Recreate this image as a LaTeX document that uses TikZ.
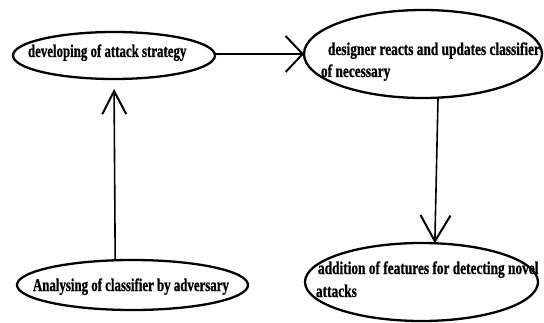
\documentclass[tikz,border=0pt]{standalone}
\usepackage{fontspec}
\setmainfont{Liberation Serif}
\newfontfamily\fa{Liberation Serif}[FakeStretch=0.715,FakeBold=0.8]
\newfontfamily\fb{Liberation Serif}[FakeStretch=0.742,FakeBold=0.8]
\usetikzlibrary{shapes.geometric,arrows.meta}
\begin{document}
\begin{tikzpicture}[x=1pt,y=1pt,
  oval/.style={ellipse,draw=black,line width=2.3pt,inner sep=0pt,outer sep=0pt},
  lbl/.style={inner sep=0pt,outer sep=0pt,anchor=base west},
  harr/.style={line width=2.4pt,-{Straight Barb[length=17pt,width=36pt,line width=2pt]}},
  varr/.style={line width=1.6pt,-{Straight Barb[length=26pt,width=30pt,line width=2pt]}},
]
\useasboundingbox (0,0) rectangle (544,322);
\node[oval,minimum width=202pt,minimum height=47pt] (e1) at (114,266.5) {};
\node[oval,minimum width=238pt,minimum height=88pt] (e2) at (423,268) {};
\node[oval,minimum width=231pt,minimum height=50pt] (e3) at (132.5,37) {};
\node[oval,minimum width=233pt,minimum height=78pt] (e4) at (421.5,40) {};

\node[lbl] (t1) at (28,265) {\fa\fontsize{18}{22}\selectfont\bfseries developing of attack strategy};
\node[lbl] (t2) at (321,267) {\fb\fontsize{18}{22}\selectfont\bfseries\vtop{\hbox{\hspace*{7pt}designer reacts and updates classifier}\hbox{of necessary}}};
\node[lbl] (t3) at (33,31) {\fa\fontsize{18}{22}\selectfont\bfseries Analysing of classifier by adversary};
\node[lbl] (t4) at (316,48) {\fb\fontsize{18}{23}\selectfont\bfseries\vtop{\hbox{\hspace*{2pt}addition of features for detecting novel}\hbox{attacks}}};

\draw[harr] (e1.east |- e2.west) -- (e2.west);
\draw[varr] (e2.-71) -- (e4.71);
\draw[varr,-{Straight Barb[length=23pt,width=24pt,line width=2pt]},shorten >=10pt] (e3.125) -- (e1.south);
\end{tikzpicture}
\end{document}
